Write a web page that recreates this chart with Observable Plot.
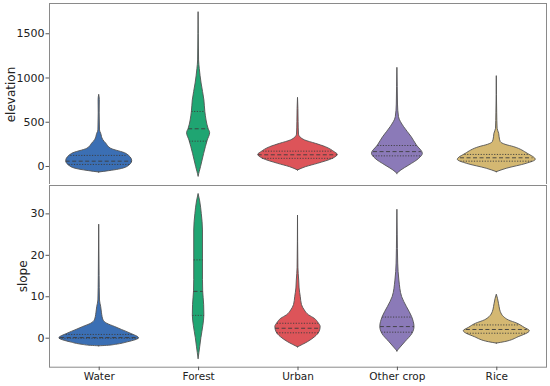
<!DOCTYPE html>
<html><head><meta charset="utf-8">
<script src="https://cdn.jsdelivr.net/npm/d3@7"></script>
<script src="https://cdn.jsdelivr.net/npm/@observablehq/plot@0.6"></script>
<style>
html,body{margin:0;padding:0;background:#fff;}
#wrap{position:relative;width:550px;height:386px;overflow:hidden;}
#wrap svg{position:absolute;left:0;}
</style></head><body><div id="wrap"></div>
<script>
const categories = ["Water", "Forest", "Urban", "Other crop", "Rice"];
const colors = ["#3b6fb4", "#1fa572", "#dd5459", "#8b7ab8", "#d4b872"];
const elevTicks = [0, 500, 1000, 1500];
const slopeTicks = [0, 10, 20, 30];

// density profiles: [value, relative half-width]
const elevWater = [[-68,0],[-53,0.25],[-35,0.5],[-8,0.70],[60,0.83],[143,0.68],[200,0.30],[256,0.18],[300,0.10],[369,0.05],[407,0.02],[600,0.012],[750,0.015],[810,0]];
const elevForest = [[-113,0],[-60,0.03],[-8,0.06],[143,0.14],[294,0.23],[376,0.29],[426,0.25],[614,0.17],[746,0.146],[938,0.075],[1100,0.03],[1198,0.012],[1500,0.004],[1744,0]];
const elevUrban = [[-45,0],[-8,0.2],[30,0.5],[87,0.88],[132,1.0],[162,0.92],[218,0.70],[256,0.45],[294,0.18],[330,0.06],[360,0.025],[500,0.015],[650,0.01],[776,0]];
const elevOther = [[-83,0],[-45,0.10],[11,0.30],[87,0.55],[143,0.64],[237,0.49],[331,0.36],[444,0.17],[557,0.04],[700,0.015],[900,0.008],[1115,0]];
const elevRice = [[-64,0],[-26,0.25],[30,0.75],[75,0.98],[143,0.78],[218,0.44],[245,0.22],[275,0.10],[330,0.07],[369,0.06],[426,0.02],[600,0.01],[1021,0]];

const slopeWater = [[-1.95,0],[-1.85,0.2],[-1.6,0.42],[-1.0,0.72],[0,1.0],[1.06,0.80],[2.0,0.57],[2.7,0.40],[3.5,0.2],[4.3,0.11],[6,0.07],[7.5,0.05],[9.1,0.02],[15,0.01],[27.4,0]];
const slopeForest = [[-5,0],[-2.2,0.04],[0,0.07],[3,0.12],[5.5,0.145],[8,0.14],[11.3,0.115],[14,0.11],[19,0.11],[26,0.11],[30,0.08],[33,0.04],[34.8,0]];
const slopeUrban = [[-2.2,0],[-0.96,0.25],[0.24,0.43],[1.45,0.54],[2.7,0.57],[3.6,0.52],[4.7,0.42],[5.5,0.28],[6.7,0.17],[8,0.1],[9.9,0.07],[12,0.04],[13.9,0.03],[17,0.01],[29.6,0]];
const slopeOther = [[-3.2,0],[-2.5,0.06],[-0.96,0.20],[1.06,0.38],[2.7,0.43],[5.1,0.37],[7.5,0.24],[9.9,0.12],[13.9,0.05],[18,0.02],[25,0.008],[31,0]];
const slopeRice = [[-1.3,0],[-0.96,0.2],[0.24,0.55],[1.7,0.83],[2.5,0.7],[3.5,0.52],[4.3,0.3],[5.1,0.18],[6.3,0.1],[7.5,0.07],[8.3,0.055],[9.5,0.03],[10.5,0]];

// quartiles [Q1, median, Q3]
const elevQuartiles = [[23,60,125],[286,426,622],[92,132,173],[120,168,237],[60,98,136]];
const slopeQuartiles = [[0.0,0.15,0.9],[5.5,11.3,18.9],[1.3,2.4,3.6],[1.45,2.8,5.1],[1.2,2.1,3.2]];

const HALF = 0.4;
function interp(p, v) {
  for (let k = 1; k < p.length; k++) {
    if (v <= p[k][0]) {
      const [v0, w0] = p[k-1], [v1, w1] = p[k];
      return w0 + (w1 - w0) * (v - v0) / (v1 - v0);
    }
  }
  return 0;
}

function panel(profiles, quartiles, o) {
  const rows = profiles.flatMap((p, i) => p.map(([v, w]) => ({cat: categories[i], i, v, w})));
  const q = quartiles.flatMap((qs, i) => qs.map((v, k) => ({i, v, k, w: interp(profiles[i], v)})));
  const marks = [
    Plot.areaX(rows, {y: "v", x1: d => d.i - d.w * HALF, x2: d => d.i + d.w * HALF, z: "cat", fill: "cat",
      stroke: "#525252", strokeWidth: 0.9, curve: "monotone-y"}),
    Plot.ruleY(q.filter(d => d.k !== 1), {y: "v", x1: d => d.i - d.w * HALF, x2: d => d.i + d.w * HALF,
      stroke: "#3c3c3c", strokeWidth: 0.9, strokeDasharray: "1.2,1.5"}),
    Plot.ruleY(q.filter(d => d.k === 1), {y: "v", x1: d => d.i - d.w * HALF, x2: d => d.i + d.w * HALF,
      stroke: "#3c3c3c", strokeWidth: 0.9, strokeDasharray: "4,2.5"}),
    Plot.frame({stroke: "#8a8a8a", strokeWidth: 1}),
    Plot.axisY(o.ticks, {tickSize: 3.5, tickPadding: 1.5, stroke: "#555", fill: "#222", fontSize: 11,
      tickFormat: d => String(d), label: null}),
    Plot.text([o.label], {frameAnchor: "left", textAnchor: "middle", lineAnchor: "middle", rotate: -90,
      dx: o.labelDx, fontSize: 12, fill: "#222"})
  ];
  if (o.xaxis) {
    marks.push(Plot.axisX([0, 1, 2, 3, 4], {tickFormat: i => categories[i], tickSize: 3.5, tickPadding: 2,
      stroke: "#555", fill: "#222", fontSize: 10.5, label: null}));
  }
  const svg = Plot.plot({
    width: 550, height: o.height,
    marginLeft: 49, marginRight: 4, marginTop: o.mt, marginBottom: o.mb,
    x: {type: "linear", domain: [-0.5, 4.5], axis: null},
    y: {domain: o.domain, axis: null, label: null},
    color: {domain: categories, range: colors},
    style: {fontFamily: "'DejaVu Sans', sans-serif", fontSize: "10.5px", color: "#222", background: "white", overflow: "visible"},
    marks
  });
  svg.style.top = o.top + "px";
  return svg;
}

const wrap = document.getElementById("wrap");
const elevProfiles = [elevWater, elevForest, elevUrban, elevOther, elevRice];
const slopeProfiles = [slopeWater, slopeForest, slopeUrban, slopeOther, slopeRice];
wrap.appendChild(panel(elevProfiles, elevQuartiles, {height: 186, mt: 3, mb: 1, top: 0, domain: [-215, 1842],
  ticks: elevTicks, label: "elevation", labelDx: -38, xaxis: false}));
wrap.appendChild(panel(slopeProfiles, slopeQuartiles, {height: 202, mt: 1, mb: 19.3, top: 184, domain: [-7.0, 36.85],
  ticks: slopeTicks, label: "slope", labelDx: -26.5, xaxis: true}));
</script></body></html>
